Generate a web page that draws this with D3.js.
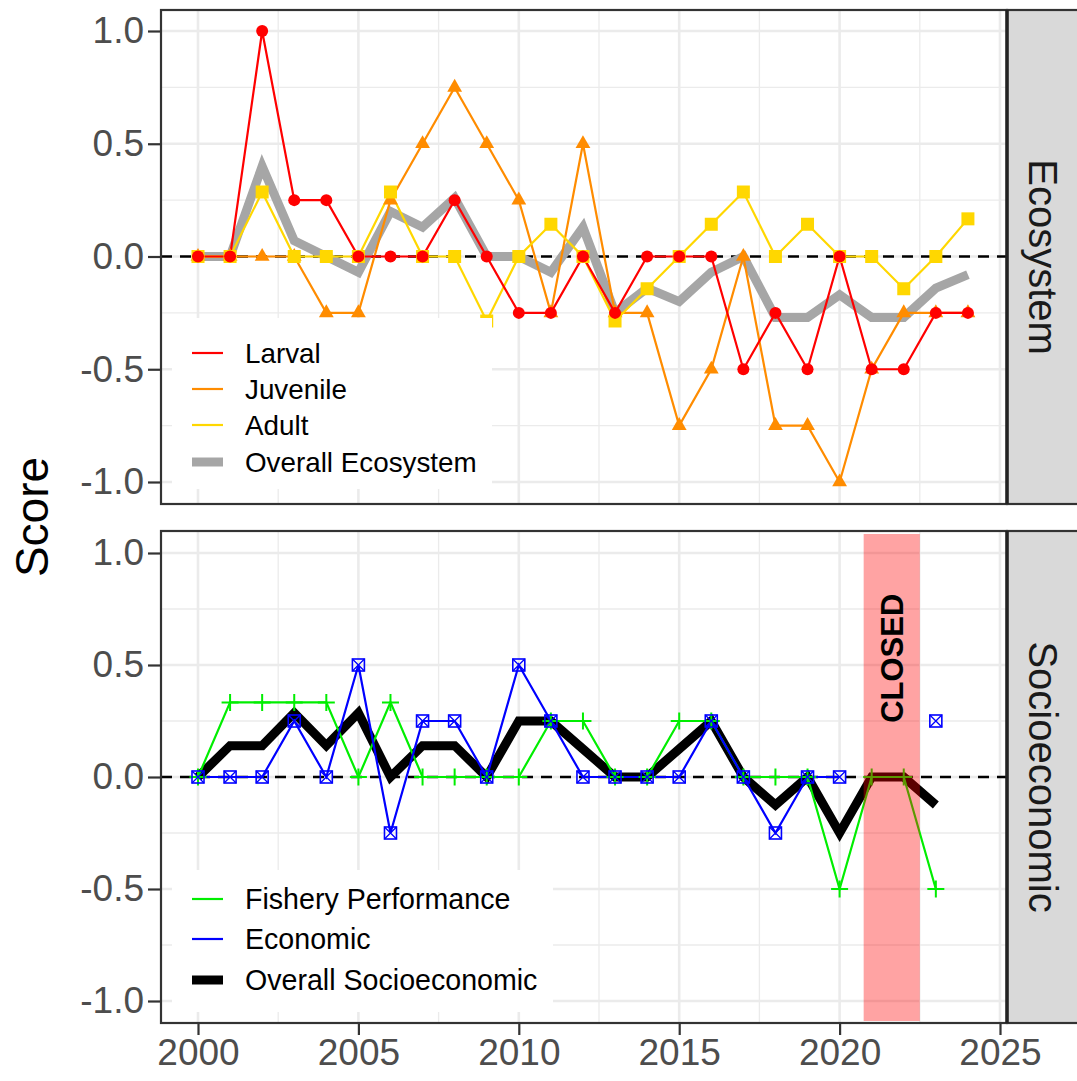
<!DOCTYPE html>
<html><head><meta charset="utf-8">
<script src="https://cdn.jsdelivr.net/npm/d3@7"></script>
<style>
html,body{margin:0;padding:0;background:#fff;}
svg{display:block;font-family:"Liberation Sans",Arial,sans-serif;}
</style></head>
<body>
<svg id="chart" width="1077" height="1081"></svg>
<script>
// ---------- DATA ----------
const ecoYears = [2000,2001,2002,2003,2004,2005,2006,2007,2008,2009,2010,2011,2012,2013,2014,2015,2016,2017,2018,2019,2020,2021,2022,2023,2024];
const larval   = [0,0,1,0.25,0.25,0,0,0,0.25,0,-0.25,-0.25,0,-0.25,0,0,0,-0.5,-0.25,-0.5,0,-0.5,-0.5,-0.25,-0.25];
const juvenile = [0,0,0,0,-0.25,-0.25,0.25,0.5,0.75,0.5,0.25,-0.25,0.5,-0.25,-0.25,-0.75,-0.5,0,-0.75,-0.75,-1,-0.5,-0.25,-0.25,-0.25];
const adult    = [0,0,0.286,0,0,0,0.286,0,0,-0.286,0,0.143,0,-0.286,-0.143,0,0.143,0.286,0,0.143,0,0,-0.143,0,0.167];
const overallEco = [0,0,0.4,0.07,0,-0.07,0.2,0.13,0.26,0,0,-0.07,0.13,-0.25,-0.14,-0.2,-0.07,0,-0.27,-0.27,-0.17,-0.27,-0.27,-0.14,-0.08];

const socioYears = [2000,2001,2002,2003,2004,2005,2006,2007,2008,2009,2010,2011,2012,2013,2014,2015,2016,2017,2018,2019,2020,2021,2022,2023];
const fishery  = [0,0.333,0.333,0.333,0.333,0,0.333,0,0,0,0,0.25,0.25,0,0,0.25,0.25,0,0,0,-0.5,0,0,-0.5];
const economic = [0,0,0,0.25,0,0.5,-0.25,0.25,0.25,0,0.5,0.25,0,0,0,0,0.25,0,-0.25,0,0,null,null,0.25];
const overallSocio = [0,0.14,0.14,0.286,0.14,0.286,0,0.14,0.14,0,0.25,0.25,0.125,0,0,0.125,0.25,0,-0.125,0,-0.25,0,0,-0.125];

const closedPeriod = [2020.75, 2022.5];
const closedLabel = "CLOSED";
const closedLabelY = 0.53;

const xTicks = [2000,2005,2010,2015,2020,2025];
const xMinor = [2002.5,2007.5,2012.5,2017.5,2022.5];
const yTicks = [-1,-0.5,0,0.5,1];
const yMinor = [-0.75,-0.25,0.25,0.75];

const ecoLegend = ["Larval","Juvenile","Adult","Overall Ecosystem"];
const socioLegend = ["Fishery Performance","Economic","Overall Socioeconomic"];
const stripLabels = ["Ecosystem","Socioeconomic"];
const yTitle = "Score";

// ---------- LAYOUT ----------
const svg = d3.select("#chart");
const panelL = 161, panelR = 1007, stripR = 1080;
const panels = [
  {top:10, bottom:504, y: d3.scaleLinear().domain([-1,1]).range([482,31])},
  {top:531, bottom:1023, y: d3.scaleLinear().domain([-1,1]).range([1001,553])}
];
const x = d3.scaleLinear().domain([2000,2025]).range([198,1000]);

const col = {larval:"#ff0000", juvenile:"#ff8c00", adult:"#ffd700", eco:"#a6a6a6",
             fishery:"#00ee00", economic:"#0000ff", socio:"#000000"};

function drawPanelBg(p){
  const g = svg.append("g");
  g.append("rect").attr("x",panelL).attr("y",p.top).attr("width",panelR-panelL).attr("height",p.bottom-p.top).attr("fill","#fff");
  xMinor.forEach(v=>g.append("line").attr("x1",x(v)).attr("x2",x(v)).attr("y1",p.top).attr("y2",p.bottom).attr("stroke","#ebebeb").attr("stroke-width",1.3));
  yMinor.forEach(v=>g.append("line").attr("x1",panelL).attr("x2",panelR).attr("y1",p.y(v)).attr("y2",p.y(v)).attr("stroke","#ebebeb").attr("stroke-width",1.3));
  xTicks.forEach(v=>g.append("line").attr("x1",x(v)).attr("x2",x(v)).attr("y1",p.top).attr("y2",p.bottom).attr("stroke","#ebebeb").attr("stroke-width",2.6));
  yTicks.forEach(v=>g.append("line").attr("x1",panelL).attr("x2",panelR).attr("y1",p.y(v)).attr("y2",p.y(v)).attr("stroke","#ebebeb").attr("stroke-width",2.6));
}
panels.forEach(drawPanelBg);

// y axes
panels.forEach(p=>{
  const ax = svg.append("g").attr("transform",`translate(${panelL},0)`)
    .call(d3.axisLeft(p.y).tickValues(yTicks).tickFormat(d=>d3.format(".1f")(d).replace("\u2212","-")).tickSize(13).tickPadding(4));
  ax.select(".domain").remove();
  ax.selectAll(".tick line").attr("stroke","#333").attr("stroke-width",2.2);
  ax.selectAll(".tick text").attr("fill","#4d4d4d").style("font-size","37px")
    .style("font-family","'Liberation Sans',Arial,sans-serif");
});
// x axis
{
  const ax = svg.append("g").attr("transform",`translate(0,${panels[1].bottom})`)
    .call(d3.axisBottom(x).tickValues(xTicks).tickFormat(d3.format("d")).tickSize(12).tickPadding(4));
  ax.select(".domain").remove();
  ax.selectAll(".tick line").attr("stroke","#333").attr("stroke-width",2.2);
  ax.selectAll(".tick text").attr("fill","#4d4d4d").style("font-size","37px")
    .style("font-family","'Liberation Sans',Arial,sans-serif");
}

// zero dashed lines
panels.forEach(p=>{
  svg.append("line").attr("x1",panelL).attr("x2",panelR).attr("y1",p.y(0)).attr("y2",p.y(0))
    .attr("stroke","#000").attr("stroke-width",2.6).attr("stroke-dasharray","11,8");
});

function series(p, years, vals, color, width){
  const data = years.map((yr,i)=>({x:yr,y:vals[i]}));
  const line = d3.line().defined(d=>d.y!==null).x(d=>x(d.x)).y(d=>p.y(d.y));
  svg.append("path").datum(data).attr("d",line).attr("fill","none")
    .attr("stroke",color).attr("stroke-width",width).attr("stroke-linejoin","miter").attr("stroke-linecap","butt");
  return data.filter(d=>d.y!==null);
}
function markers(data, p, type, color){
  const g = svg.append("g");
  data.forEach(d=>{
    const cx = x(d.x), cy = p.y(d.y);
    if(type==="circle"){
      g.append("circle").attr("cx",cx).attr("cy",cy).attr("r",6).attr("fill",color);
    } else if(type==="triangle"){
      g.append("path").attr("d",d3.symbol(d3.symbolTriangle,95)()).attr("transform",`translate(${cx},${cy})`).attr("fill",color);
    } else if(type==="square"){
      g.append("rect").attr("x",cx-6.5).attr("y",cy-6.5).attr("width",13).attr("height",13).attr("fill",color);
    } else if(type==="squarecross"){
      const s=6;
      g.append("rect").attr("x",cx-s).attr("y",cy-s).attr("width",2*s).attr("height",2*s).attr("fill","none").attr("stroke",color).attr("stroke-width",1.6);
      g.append("path").attr("d",`M${cx-s},${cy-s}L${cx+s},${cy+s}M${cx-s},${cy+s}L${cx+s},${cy-s}`).attr("stroke",color).attr("stroke-width",1.3);
    } else if(type==="plus"){
      const s=8.5;
      g.append("path").attr("d",`M${cx-s},${cy}L${cx+s},${cy}M${cx},${cy-s}L${cx},${cy+s}`).attr("stroke",color).attr("stroke-width",2);
    }
  });
}

// ---------- TOP PANEL ----------
const P0 = panels[0];
series(P0, ecoYears, overallEco, col.eco, 9);
const dJ = series(P0, ecoYears, juvenile, col.juvenile, 2.2);
const dA = series(P0, ecoYears, adult, col.adult, 2.2);
const dL = series(P0, ecoYears, larval, col.larval, 2.2);
markers(dJ, P0, "triangle", col.juvenile);
markers(dA, P0, "square", col.adult);
markers(dL, P0, "circle", col.larval);

// ---------- BOTTOM PANEL ----------
const P1 = panels[1];
series(P1, socioYears, overallSocio, col.socio, 9);
const dF = series(P1, socioYears, fishery, col.fishery, 2.2);
const dE = series(P1, socioYears, economic, col.economic, 2.2);
markers(dF, P1, "plus", col.fishery);
markers(dE, P1, "squarecross", col.economic);

// closed band
svg.append("rect").attr("x",x(closedPeriod[0])).attr("width",x(closedPeriod[1])-x(closedPeriod[0]))
  .attr("y",P1.top+3).attr("height",P1.bottom-P1.top-5).attr("fill","#ff0000").attr("fill-opacity",0.36);
svg.append("text").attr("transform",`translate(${x((closedPeriod[0]+closedPeriod[1])/2)},${P1.y(closedLabelY)}) rotate(-90)`)
  .attr("text-anchor","middle").attr("dy","0.36em").style("font-size","31px").style("font-weight","bold")
  .attr("fill","#000").text(closedLabel);

// ---------- LEGENDS ----------
function legend(items, colors, widths, box, x0, ys, fs){
  svg.append("rect").attr("x",box[0]).attr("y",box[1]).attr("width",box[2]-box[0]).attr("height",box[3]-box[1]).attr("fill","#fff");
  items.forEach((t,i)=>{
    svg.append("line").attr("x1",x0).attr("x2",x0+31).attr("y1",ys[i]).attr("y2",ys[i]).attr("stroke",colors[i]).attr("stroke-width",widths[i]);
    svg.append("text").attr("x",x0+53).attr("y",ys[i]).attr("dy","0.36em").style("font-size",fs+"px").attr("fill","#000").text(t);
  });
}
legend(ecoLegend,[col.larval,col.juvenile,col.adult,col.eco],[2.2,2.2,2.2,9],[172,318,492,489],192,[353,389,425,462],27.8);
legend(socioLegend,[col.fishery,col.economic,col.socio],[2.2,2.2,9],[172,870,553,1012],192,[899,939,980],28.6);

// ---------- BORDERS & STRIPS ----------
panels.forEach((p,i)=>{
  svg.append("rect").attr("x",panelR).attr("y",p.top).attr("width",stripR-panelR).attr("height",p.bottom-p.top)
    .attr("fill","#d9d9d9").attr("stroke","#333").attr("stroke-width",2.2);
  svg.append("rect").attr("x",panelL).attr("y",p.top).attr("width",panelR-panelL).attr("height",p.bottom-p.top)
    .attr("fill","none").attr("stroke","#333").attr("stroke-width",2.2);
  svg.append("line").attr("x1",panelR).attr("x2",panelR).attr("y1",p.top).attr("y2",p.bottom).attr("stroke","#222").attr("stroke-width",3.5);
  svg.append("text").attr("transform",`translate(${(panelR+1077)/2+1},${(p.top+p.bottom)/2}) rotate(90)`)
    .attr("text-anchor","middle").attr("dy","0.36em").style("font-size","40px").attr("fill","#1a1a1a").text(stripLabels[i]);
});

// y title
svg.append("text").attr("transform",`translate(31,517) rotate(-90)`).attr("text-anchor","middle").attr("dy","0.36em")
  .style("font-size","46px").attr("fill","#000").text(yTitle);
</script>
</body></html>
